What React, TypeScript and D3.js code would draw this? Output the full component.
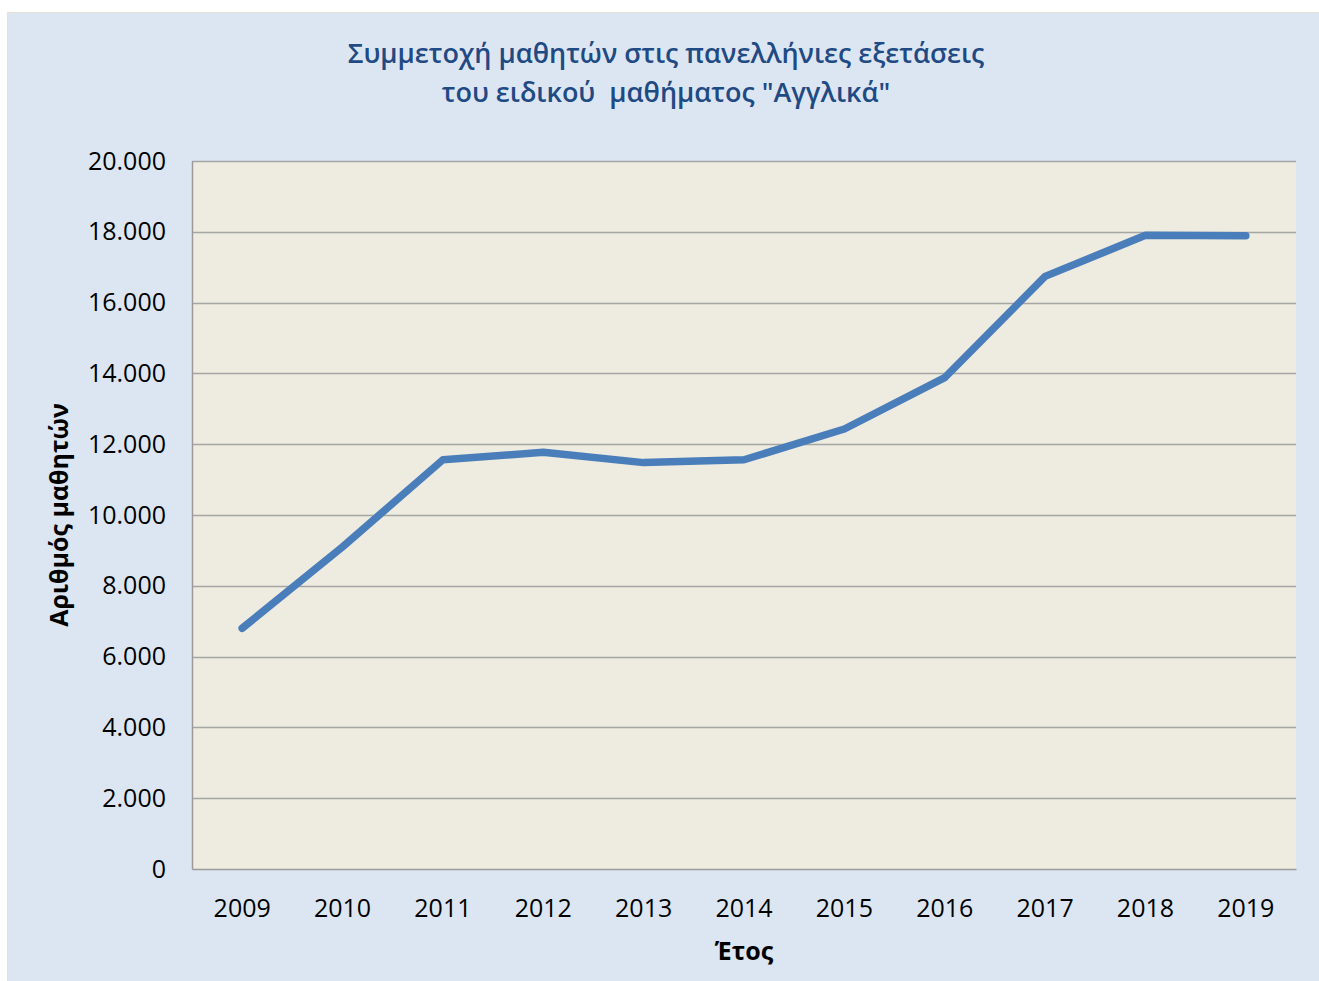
import React, { useEffect, useRef } from 'react';
import * as d3 from 'd3';

const years = ['2009', '2010', '2011', '2012', '2013', '2014', '2015', '2016', '2017', '2018', '2019'];
const students = [6800, 9100, 11560, 11770, 11480, 11560, 12430, 13880, 16740, 17900, 17890];
const yTicks = [0, 2000, 4000, 6000, 8000, 10000, 12000, 14000, 16000, 18000, 20000];
const titleLines = ['Συμμετοχή μαθητών στις πανελλήνιες εξετάσεις', 'του ειδικού  μαθήματος "Αγγλικά"'];

const FONT = "'Open Sans', 'Noto Sans', sans-serif";

export default function App() {
  const ref = useRef<SVGSVGElement | null>(null);

  useEffect(() => {
    const svg = d3.select(ref.current);
    svg.selectAll('*').remove();

    const W = 1319;
    const H = 981;
    const plot = { left: 192, right: 1296, top: 161, bottom: 869 };

    // chart area background
    svg.append('rect').attr('x', 0).attr('y', 0).attr('width', W).attr('height', H).attr('fill', '#ffffff');
    svg.append('rect')
      .attr('x', 7.5).attr('y', 12.5)
      .attr('width', W - 7).attr('height', H - 12)
      .attr('fill', '#dce6f2')
      .attr('stroke', '#e6e2d6');

    const x = d3.scaleBand<string>()
      .domain(years)
      .range([plot.left, plot.right]);

    const y = d3.scaleLinear()
      .domain([0, 20000])
      .range([plot.bottom, plot.top]);

    // plot area
    svg.append('rect')
      .attr('x', plot.left).attr('y', plot.top)
      .attr('width', plot.right - plot.left).attr('height', plot.bottom - plot.top)
      .attr('fill', '#eeece1');

    // gridlines
    svg.append('g')
      .selectAll('line')
      .data(yTicks.filter((d) => d > 0))
      .enter().append('line')
      .attr('x1', plot.left).attr('x2', plot.right)
      .attr('y1', (d) => Math.round(y(d)) + 0.5)
      .attr('y2', (d) => Math.round(y(d)) + 0.5)
      .attr('stroke', '#a5a5a5')
      .attr('stroke-width', 1.5);

    // y axis
    const yAxis = svg.append('g')
      .attr('transform', `translate(${plot.left},0)`)
      .call(d3.axisLeft(y).tickValues(yTicks).tickSize(0).tickPadding(26)
        .tickFormat((d) => d3.format(',')(d as number).replace(/,/g, '.')));
    yAxis.select('.domain').attr('stroke', '#9a9a9a').attr('stroke-width', 1.5);
    yAxis.selectAll('text')
      .attr('font-family', FONT).attr('font-size', 25).attr('fill', '#000');

    // x axis
    const xAxis = svg.append('g')
      .attr('transform', `translate(0,${plot.bottom})`)
      .call(d3.axisBottom(x).tickSize(0).tickPadding(30));
    xAxis.select('.domain').attr('stroke', '#9a9a9a').attr('stroke-width', 1.5);
    xAxis.selectAll('text')
      .attr('font-family', FONT).attr('font-size', 25).attr('fill', '#000');

    // line
    const line = d3.line<number>()
      .x((d, i) => (x(years[i]) as number) + x.bandwidth() / 2)
      .y((d) => y(d));

    svg.append('path')
      .datum(students)
      .attr('d', line)
      .attr('fill', 'none')
      .attr('stroke', '#4a7ebb')
      .attr('stroke-width', 7.5)
      .attr('stroke-linecap', 'round')
      .attr('stroke-linejoin', 'round');

    // title
    svg.append('text')
      .attr('x', 666).attr('y', 63)
      .attr('text-anchor', 'middle')
      .attr('font-family', FONT).attr('font-size', 27).attr('font-weight', 600)
      .attr('fill', '#1f4a84')
      .selectAll('tspan')
      .data(titleLines)
      .enter().append('tspan')
      .attr('x', 666)
      .attr('dy', (d, i) => (i === 0 ? 0 : 39))
      .attr('xml:space', 'preserve')
      .style('white-space', 'pre')
      .text((d) => d);

    // axis titles
    svg.append('text')
      .attr('x', (plot.left + plot.right) / 2).attr('y', 960)
      .attr('text-anchor', 'middle')
      .attr('font-family', FONT).attr('font-size', 25).attr('font-weight', 700)
      .text('Έτος');

    svg.append('text')
      .attr('transform', `translate(68,${(plot.top + plot.bottom) / 2}) rotate(-90)`)
      .attr('text-anchor', 'middle')
      .attr('font-family', FONT).attr('font-size', 25).attr('font-weight', 700)
      .text('Αριθμός μαθητών');
  }, []);

  return (
    <svg
      ref={ref}
      width={1319}
      height={981}
      style={{ position: 'absolute', left: 0, top: 0, display: 'block' }}
    />
  );
}
